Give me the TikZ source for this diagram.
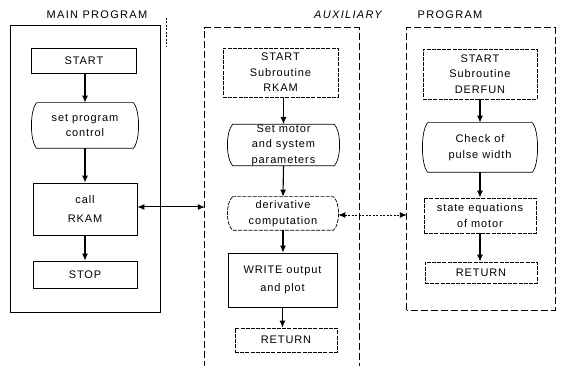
\documentclass[tikz,border=0pt]{standalone}
\usepackage{fontspec}
\setmainfont{Liberation Sans}
\newfontfamily\lblfont[LetterSpace=8]{Liberation Sans}
\newfontfamily\ttlfont[LetterSpace=12]{Liberation Sans}
\usetikzlibrary{arrows.meta}
\tikzset{
  box/.style={draw, line width=0.7pt, inner sep=0pt, align=center, font=\lbl},
  sbox/.style={box, dash pattern=on 4pt off 1.2pt},
  dbox/.style={box, draw=none},
  frame/.style={draw=none, inner sep=0pt},
  flow/.style={line width=1.1pt, -{Latex[length=7pt,width=6pt]}},
  title/.style={font=\ttl, inner sep=0pt},
}
\newcommand{\lbl}{\lblfont\fontsize{11}{15.5}\selectfont}
\newcommand{\ttl}{\ttlfont\fontsize{11}{13}\selectfont}
\begin{document}
\begin{tikzpicture}[x=1pt,y=-1pt]
\useasboundingbox (0,0) rectangle (565,366);
% frames
\node[frame, minimum width=149, minimum height=286] (mf) at (85.5,169) {};
\node[frame, minimum width=154, minimum height=340] (af) at (282,198) {};
\node[frame, minimum width=148, minimum height=282] (pf) at (481,169) {};
\draw[line width=0.7pt] (mf.south west) rectangle (mf.north east);
\draw[line width=0.7pt, dash pattern=on 7pt off 3pt] (af.south west) -- (af.north west) -- (af.north east) -- (af.south east);
\draw[line width=0.7pt, dash pattern=on 7pt off 3pt] (pf.south west) rectangle (pf.north east);
% titles
\node[title] (tm) at (97,15) {MAIN PROGRAM};
\node[title, font=\ttl\itshape] (ta) at (348,15) {AUXILIARY};
\node[title] (tp) at (450,15) {PROGRAM};
\coordinate (ka) at (166,18);
\coordinate (kb) at (166,47);
\draw[line width=0.6pt, dash pattern=on 2pt off 1.5pt] (ka) -- (kb);
% main program
\node[box, minimum width=105, minimum height=25] (ms) at (84,60.5) {START};
\node[dbox, minimum width=96, minimum height=45] (mc) at (85,125.5) {set program\\control};
\node[box, minimum width=104, minimum height=52] (mr) at (85,209) {call\\[4pt]RKAM};
\node[box, minimum width=104, minimum height=27] (mp) at (85,274.5) {STOP};
% auxiliary
\node[sbox, minimum width=115, minimum height=49] (as) at (280.5,72.5) {START\\Subroutine\\RKAM};
\node[dbox, minimum width=101, minimum height=40] (am) at (283.5,145) {Set motor\\and system\\parameters};
\node[dbox, minimum width=100, minimum height=33] (ad) at (283,213.5) {derivative\\computation};
\node[box, minimum width=109, minimum height=54] (aw) at (282.5,280) {WRITE output\\[3pt]and plot};
\node[sbox, minimum width=102, minimum height=24] (ar) at (286,340) {RETURN};
% program
\node[sbox, minimum width=114, minimum height=50] (ps) at (480,74) {START\\Subroutine\\DERFUN};
\node[dbox, minimum width=104, minimum height=49] (pc) at (480,147.5) {Check of\\pulse width};
\node[sbox, minimum width=112, minimum height=35] (pe) at (480,215.5) {state equations\\of motor};
\node[sbox, minimum width=112, minimum height=21] (pr) at (481,272.5) {RETURN};
% curved-sided boxes
\foreach \n in {mc,am,pc}
  \draw[line width=0.7pt] (\n.north west) .. controls +(-7,8) and +(-7,-8) .. (\n.south west) -- (\n.south east) .. controls +(7,-8) and +(7,8) .. (\n.north east) -- cycle;
\draw[line width=0.7pt, dash pattern=on 4pt off 1.2pt] (ad.north west) .. controls +(-7,6) and +(-7,-6) .. (ad.south west) -- (ad.south east) .. controls +(7,-6) and +(7,6) .. (ad.north east) -- cycle;
% flow arrows
\draw[flow] (ms.south -| mc.north) -- (mc.north);
\draw[flow] (mc.south) -- (mr.north);
\draw[flow] (mr.south) -- (mp.north);
\draw[flow] (as.south -| am.north) -- (am.north);
\draw[flow] (am.south) -- (ad.north);
\draw[flow] (ad.south) -- (ad.south |- aw.north);
\draw[flow] (aw.south) -- (aw.south |- ar.north);
\draw[flow] (ps.south) -- (pc.north);
\draw[flow] (pc.south) -- (pe.north);
\draw[flow] (pe.south) -- (pe.south |- pr.north);
% links
\draw[line width=1pt, {Latex[length=7pt,width=6pt]}-{Latex[length=7pt,width=6pt]}] ([yshift=2pt]mr.east) -- ([yshift=2pt]mr.east -| af.west);
\draw[line width=0.9pt, dash pattern=on 2pt off 1.5pt, {Latex[length=7pt,width=6pt]}-{Latex[length=7pt,width=6pt]}] ([yshift=-1.5pt]ad.east) ++(5,0) -- ([yshift=-1.5pt]ad.east -| pf.west);
\end{tikzpicture}
\end{document}
